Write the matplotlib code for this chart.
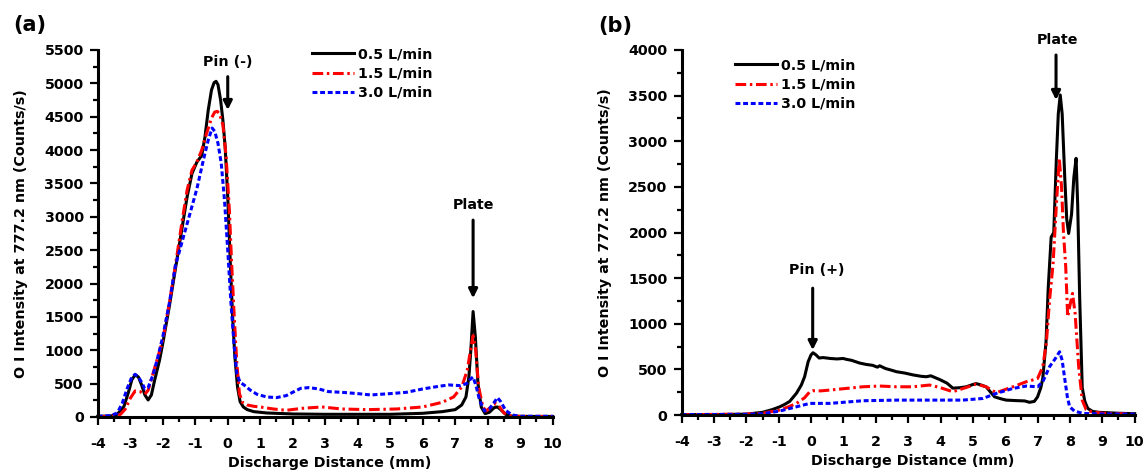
import numpy as np
import matplotlib
matplotlib.use("Agg")
import matplotlib.pyplot as plt
from matplotlib.ticker import MultipleLocator

plt.rcParams['font.family'] = ['DejaVu Sans']
plt.rcParams['font.weight'] = 'bold'
plt.rcParams['font.size'] = 10.3
plt.rcParams['axes.unicode_minus'] = False

labels = ['0.5 L/min', '1.5 L/min', '3.0 L/min']

# (a) pin negative
a_x05 = [-4, -3.6, -3.4, -3.2, -3.05, -2.95, -2.85, -2.75, -2.65, -2.55, -2.45, -2.35, -2.25, -2.1, -2.0,
         -1.8, -1.6, -1.4, -1.25, -1.1, -0.95, -0.8, -0.7, -0.6, -0.5, -0.42, -0.36, -0.3, -0.22, -0.15,
         -0.08, 0.0, 0.08, 0.15, 0.22, 0.3, 0.38, 0.48, 0.6, 0.8, 1.2, 2.0, 3.0, 4.0, 5.0, 6.0, 6.6, 7.0,
         7.2, 7.33, 7.42, 7.48, 7.55, 7.62, 7.7, 7.8, 7.92, 8.05, 8.2, 8.3, 8.4, 8.55, 8.7, 8.9, 9.5, 10]
a_y05 = [10, 15, 40, 150, 380, 560, 630, 600, 480, 330, 255, 330, 550, 850, 1100,
         1650, 2250, 2850, 3300, 3650, 3820, 3920, 4200, 4600, 4900, 5010, 5030, 4980, 4750, 4450,
         4050, 3300, 2300, 1500, 900, 450, 230, 150, 110, 80, 60, 45, 40, 40, 40, 55, 80, 110,
         180, 300, 600, 1000, 1580, 1200, 500, 150, 50, 70, 140, 150, 110, 40, 15, 10, 8, 8]

a_x15 = [-4, -3.5, -3.3, -3.15, -3.0, -2.85, -2.7, -2.55, -2.45, -2.3, -2.15, -2.0, -1.8, -1.6, -1.4,
         -1.25, -1.1, -0.95, -0.8, -0.65, -0.5, -0.4, -0.32, -0.25, -0.15, -0.05, 0.05, 0.12, 0.2, 0.28,
         0.36, 0.45, 0.6, 0.8, 1.0, 1.4, 1.8, 2.3, 2.9, 3.5, 4.3, 5.2, 6.0, 6.6, 6.95, 7.2, 7.37, 7.47,
         7.55, 7.63, 7.72, 7.85, 7.95, 8.1, 8.25, 8.35, 8.5, 8.7, 9.0, 10]
a_y15 = [5, 10, 40, 120, 280, 390, 380, 340, 400, 650, 900, 1150, 1700, 2300, 2950,
         3400, 3700, 3820, 4000, 4250, 4480, 4570, 4580, 4540, 4380, 3900, 3100, 2300, 1500, 800,
         350, 220, 180, 160, 150, 120, 100, 130, 150, 120, 110, 120, 150, 220, 300, 450, 700, 1000,
         1220, 1000, 450, 150, 90, 150, 200, 160, 60, 15, 8, 8]

a_x30 = [-4, -3.6, -3.4, -3.25, -3.1, -2.95, -2.85, -2.75, -2.65, -2.55, -2.45, -2.3, -2.15, -2.0, -1.8,
         -1.61, -1.38, -1.15, -0.95, -0.75, -0.6, -0.48, -0.4, -0.3, -0.2, -0.1, 0.0, 0.1, 0.2, 0.28,
         0.38, 0.5, 0.7, 0.9, 1.2, 1.5, 1.8, 2.0, 2.25, 2.5, 2.8, 3.1, 3.5, 4.0, 4.4, 5.0, 5.5, 6.0,
         6.5, 6.8, 7.15, 7.35, 7.45, 7.55, 7.65, 7.75, 7.9, 8.05, 8.2, 8.3, 8.4, 8.55, 8.75, 9.0, 10]
a_y30 = [10, 20, 60, 200, 420, 600, 640, 600, 520, 420, 440, 630, 900, 1200, 1700,
         2270, 2670, 3070, 3420, 3850, 4150, 4330, 4280, 4100, 3800, 3250, 2500, 1700, 1050, 650,
         520, 480, 400, 340, 300, 290, 320, 370, 430, 440, 420, 380, 370, 350, 330, 350, 370, 420,
         460, 480, 470, 500, 560, 600, 450, 250, 90, 120, 220, 290, 230, 100, 30, 10, 10]

# (b) pin positive
b_x05 = [-4, -3, -2, -1.5, -1.2, -0.97, -0.8, -0.66, -0.45, -0.3, -0.2, -0.09, 0.0, 0.06, 0.15, 0.25,
         0.37, 0.6, 0.8, 0.99, 1.1, 1.25, 1.5, 1.7, 1.9, 2.05, 2.12, 2.3, 2.5, 2.64, 2.9, 3.15, 3.4,
         3.56, 3.7, 3.97, 4.2, 4.38, 4.6, 4.8, 5.0, 5.1, 5.25, 5.41, 5.55, 5.67, 5.85, 6.03, 6.25, 6.44,
         6.6, 6.75, 6.9, 7.0, 7.1, 7.16, 7.26, 7.33, 7.42, 7.5, 7.58, 7.64, 7.7, 7.76, 7.84, 7.9, 7.96,
         8.05, 8.12, 8.19, 8.24, 8.3, 8.38, 8.46, 8.55, 8.7, 8.9, 9.5, 10]
b_y05 = [5, 5, 10, 30, 60, 90, 120, 150, 240, 330, 420, 585, 660, 683, 660, 625,
         630, 620, 615, 620, 610, 600, 570, 555, 545, 525, 540, 510, 490, 475, 460, 440, 425,
         420, 430, 390, 350, 295, 300, 310, 335, 345, 330, 310, 250, 200, 180, 164, 160, 157,
         155, 140, 150, 200, 300, 400, 800, 1400, 1950, 2000, 2800, 3300, 3507, 3300, 2600, 2150, 1990,
         2200, 2600, 2813, 2300, 1300, 300, 150, 73, 40, 30, 20, 15]

b_x15 = [-4, -2, -1.5, -0.97, -0.7, -0.45, -0.2, -0.04, 0.06, 0.3, 0.58, 1.09, 1.6, 2.12, 2.64, 3.15,
         3.66, 3.97, 4.38, 4.8, 5.1, 5.41, 5.72, 6.24, 6.65, 7.0, 7.16, 7.27, 7.37, 7.48, 7.58, 7.67,
         7.74, 7.8, 7.87, 7.93, 8.0, 8.08, 8.16, 8.27, 8.38, 8.5, 8.66, 9.0, 10]
b_y15 = [5, 10, 20, 55, 90, 128, 190, 256, 267, 265, 274, 292, 310, 318, 310, 310,
         329, 303, 256, 303, 340, 310, 245, 310, 365, 400, 530, 785, 1260, 1662, 2300, 2813,
         2500, 2000, 1625, 1078, 1200, 1333, 1114, 530, 164, 60, 37, 20, 10]

b_x30 = [-4, -2, -1.5, -0.97, -0.45, -0.04, 0.58, 1.6, 2.64, 3.66, 4.69, 5.31, 5.72, 6.24, 6.65, 7.0,
         7.16, 7.37, 7.55, 7.68, 7.76, 7.83, 7.92, 7.99, 8.14, 8.4, 9.0, 10]
b_y30 = [5, 8, 15, 44, 91, 128, 128, 157, 164, 164, 164, 182, 237, 292, 318, 310,
         365, 530, 620, 694, 600, 420, 200, 91, 44, 18, 12, 10]

styles = [dict(color='black', ls='-'),
          dict(color='red', ls=(0, (3.5, 1.2, 0.8, 1.2))),
          dict(color='blue', ls=(0, (1.6, 0.9)))]

fig = plt.figure(figsize=(11.46, 4.76), dpi=100)
ax1 = fig.add_axes([0.0853, 0.124, 0.397, 0.771])
ax2 = fig.add_axes([0.5948, 0.128, 0.3953, 0.767])


def style_axes(ax, ymax):
    ax.set_xlim(-4, 10)
    ax.set_ylim(0, ymax)
    for s in ['top', 'right']:
        ax.spines[s].set_visible(False)
    for s in ['left', 'bottom']:
        ax.spines[s].set_linewidth(2.2)
    ax.xaxis.set_major_locator(MultipleLocator(1))
    ax.xaxis.set_minor_locator(MultipleLocator(0.5))
    ax.yaxis.set_major_locator(MultipleLocator(500))
    ax.yaxis.set_minor_locator(MultipleLocator(250))
    ax.tick_params(which='major', direction='out', length=5.8, width=1.6, labelsize=10.3)
    ax.tick_params(which='minor', direction='out', length=3.3, width=1.6)
    ax.tick_params(axis='y', which='major', pad=4.3)
    ax.tick_params(axis='x', which='major', pad=8.5)
    ax.set_xlabel('Discharge Distance (mm)', fontweight='bold', fontsize=10.3)
    ax.set_ylabel('O I Intensity at 777.2 nm (Counts/s)', fontweight='bold', fontsize=10.3)
    ax.xaxis.set_label_coords(0.51, -0.107)
    ax.yaxis.set_label_coords(-0.153, 0.5)


def arrow(ax, x, y0, y1):
    ax.annotate('', xy=(x, y1), xytext=(x, y0), annotation_clip=False,
                arrowprops=dict(arrowstyle='-|>', lw=2.2, color='black', mutation_scale=13,
                                shrinkA=0, shrinkB=0))


series_a = [(a_x05, a_y05), (a_x15, a_y15), (a_x30, a_y30)]
series_b = [(b_x05, b_y05), (b_x15, b_y15), (b_x30, b_y30)]

for (x, y), st, lab in zip(series_a, styles, labels):
    ax1.plot(x, y, lw=2.2, label=lab, clip_on=False, **st)
for (x, y), st, lab in zip(series_b, styles, labels):
    ax2.plot(x, y, lw=2.2, label=lab, clip_on=False, **st)

style_axes(ax1, 5500)
style_axes(ax2, 4000)

leg_kw = dict(frameon=False, handlelength=2.9, handletextpad=0.28, labelspacing=0.36,
              borderpad=0, borderaxespad=0, prop={'weight': 'bold', 'size': 10.3})
ax1.legend(loc='upper left', bbox_to_anchor=(0.471, 1.007), **leg_kw)
ax2.legend(loc='upper left', bbox_to_anchor=(0.118, 0.977), **leg_kw)

ax1.text(0.0, 5320, 'Pin (-)', ha='center', va='center', fontweight='bold')
arrow(ax1, 0.0, 5100, 4600)
ax1.text(7.57, 3180, 'Plate', ha='center', va='center', fontweight='bold')
arrow(ax1, 7.55, 2950, 1780)

ax2.text(0.18, 1590, 'Pin (+)', ha='center', va='center', fontweight='bold')
arrow(ax2, 0.05, 1390, 712)
ax2.text(7.61, 4110, 'Plate', ha='center', va='center', fontweight='bold')
arrow(ax2, 7.57, 3945, 3452)

fig.text(0.026, 0.947, '(a)', ha='center', va='center', fontsize=15, fontweight='bold')
fig.text(0.537, 0.946, '(b)', ha='center', va='center', fontsize=15, fontweight='bold')

fig.savefig('out.png', dpi=100)
